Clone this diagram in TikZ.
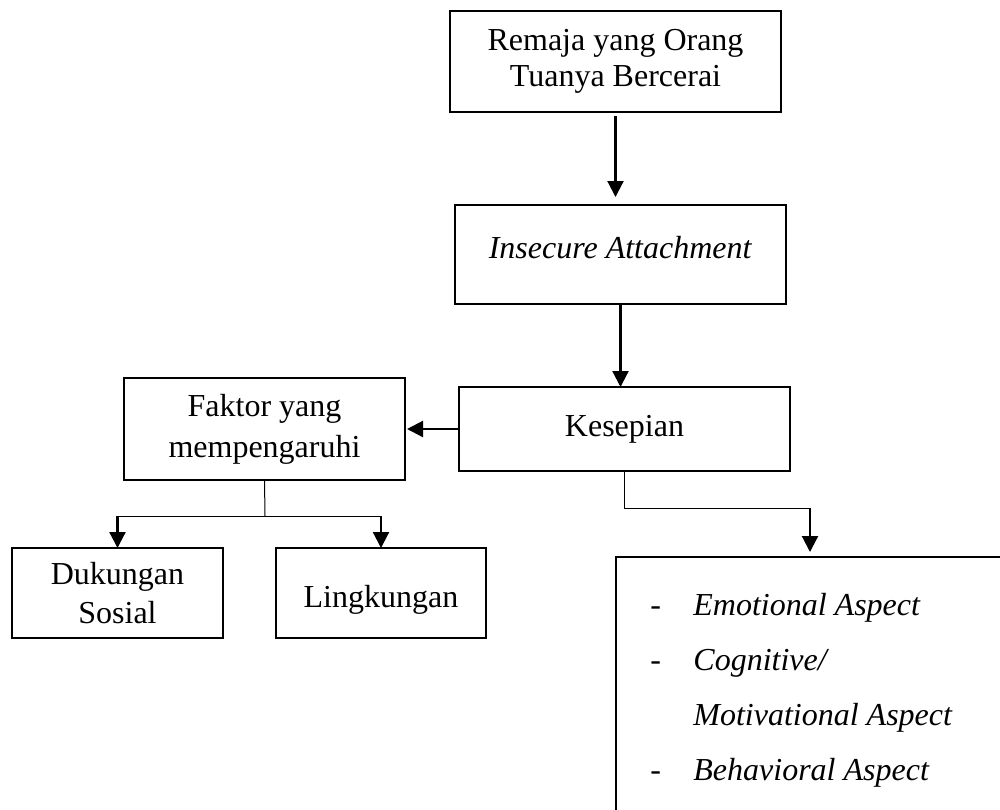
\documentclass[tikz,border=0pt]{standalone}
\usepackage{fontspec}
\setmainfont{Liberation Serif}
\usepackage{tikz}
\usetikzlibrary{positioning, calc, arrows.meta}

\begin{document}
\begin{tikzpicture}[x=0.5pt, y=-0.5pt,
    font=\fontsize{16}{17.5}\selectfont,
    box/.style={draw, line width=1.1pt, rectangle, align=center, inner sep=0pt, outer sep=0pt},
    arrow/.style={line width=1.1pt, -{Triangle[width=8pt,length=8pt]}},
    thinline/.style={line width=0.5pt}]
    \useasboundingbox (0,0) rectangle (1000,809);
    \clip (0,0) rectangle (1000,809);
    % main chain
    \node[box, minimum width=165.5pt, minimum height=50.5pt] (remaja) at (615.5,61.5) {Remaja yang Orang\\[0.5pt]Tuanya Bercerai};
    \node[box, minimum width=165.5pt, minimum height=49.5pt] (insecure) at (620.5,254.5) {\raisebox{7pt}{\textit{Insecure Attachment}}};
    \node[box, minimum width=165.5pt, minimum height=42pt] (kesepian) at (624.5,429) {Kesepian};
    % factors
    \node[box, minimum width=140.5pt, minimum height=51pt] (faktor) at (264.5,429) {Faktor yang\\[3pt]mempengaruhi};
    \node[box, minimum width=105.5pt, minimum height=45pt] (dukungan) at (117.5,593) {Dukungan\\[2pt]Sosial};
    \node[box, minimum width=105pt, minimum height=45pt] (lingkungan) at (381,593) {\raisebox{-3.5pt}[\height][\depth]{Lingkungan}};
    % aspects (box runs off the page)
    \node[box, anchor=north west, minimum width=250pt, minimum height=200pt] (aspek) at (616,557) {};
    \node[anchor=base west, align=left, inner sep=0pt, font=\fontsize{16}{27.5}\selectfont] (daftar) at (650,780)
        {\makebox[21.5pt][l]{-}\textit{Emotional Aspect}\\
         \makebox[21.5pt][l]{-}\textit{Cognitive/}\\
         \hspace*{21.5pt}\textit{Motivational Aspect}\\
         \makebox[21.5pt][l]{-}\textit{Behavioral Aspect}};
    \coordinate (split) at (265,516);
    \coordinate (turn) at (810,508);

    \draw[arrow, shorten <=2pt, shorten >=4pt] (remaja.south) -- (remaja.south |- insecure.north);
    \draw[arrow] (insecure.south) -- (insecure.south |- kesepian.north);
    \draw[arrow, shorten >=1pt] (kesepian.west) -- (kesepian.west -| faktor.east);
    \draw[thinline] (faktor.south) -- (split);
    \draw[thinline] (dukungan.north |- split) -- (lingkungan.north |- split);
    \draw[arrow] (dukungan.north |- split) -- (dukungan.north);
    \draw[arrow] (lingkungan.north |- split) -- (lingkungan.north);
    \draw[thinline] (kesepian.south) |- (turn);
    \draw[arrow, shorten >=2.5pt] (turn) -- (turn |- aspek.north);
\end{tikzpicture}
\end{document}
